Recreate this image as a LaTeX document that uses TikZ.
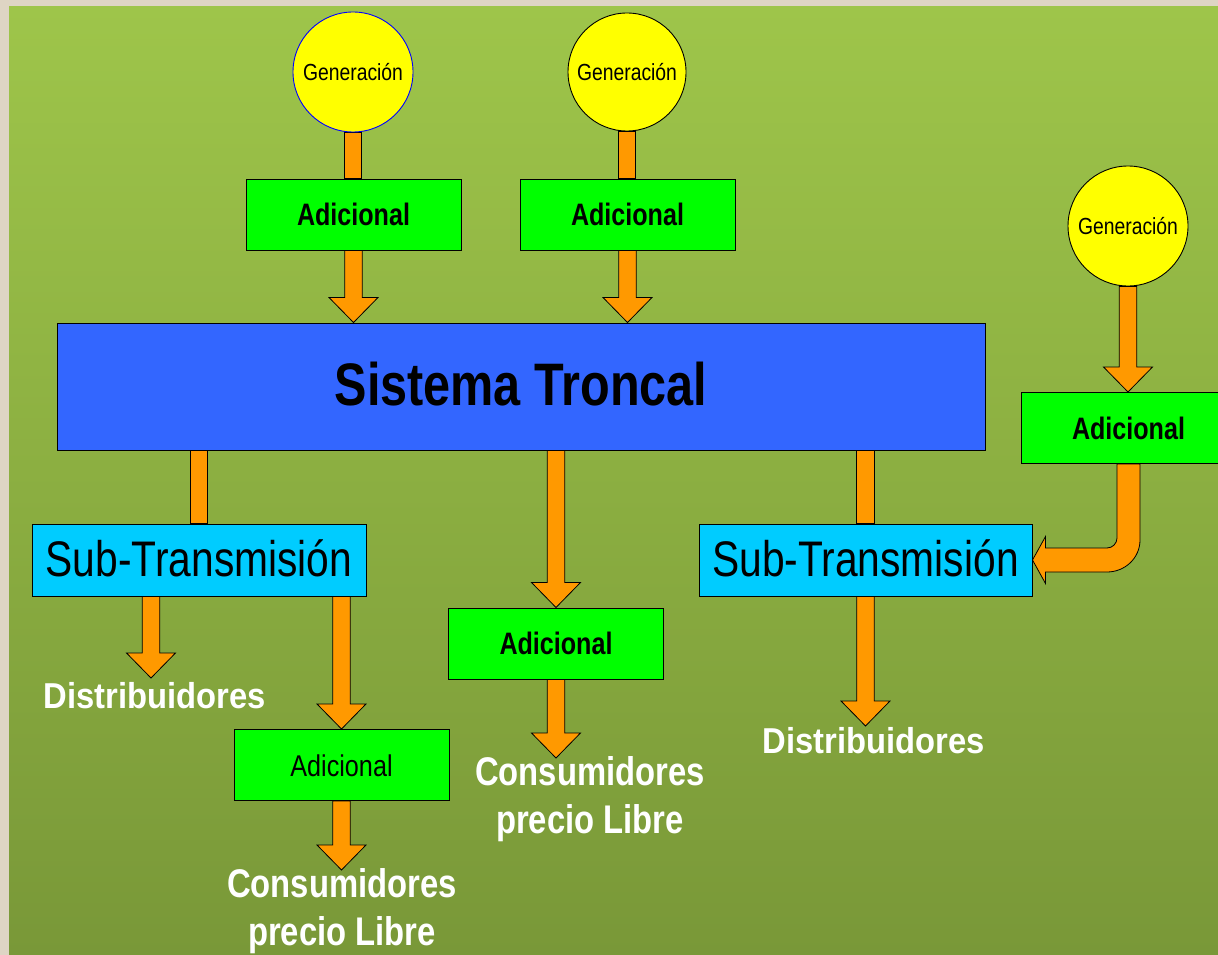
\documentclass[tikz,border=0pt]{standalone}
\usepackage{fontspec}
\setmainfont{Liberation Sans}
\usepackage{graphicx}
\usetikzlibrary{calc}
\pgfdeclarelayer{bg}
\pgfdeclarelayer{arr}
\pgfsetlayers{bg,arr,main}
\definecolor{gtop}{RGB}{158,197,74}
\definecolor{gbot}{RGB}{121,152,56}
\definecolor{beige}{RGB}{222,213,196}
\definecolor{orng}{RGB}{255,153,0}
\definecolor{lime}{RGB}{0,255,0}
\definecolor{troncalblue}{RGB}{51,102,255}
\definecolor{cyanbox}{RGB}{0,204,255}
\definecolor{yel}{RGB}{255,255,0}
\newcommand\sx[2]{\scalebox{#1}[1]{#2}}
\newcommand\fs[1]{\fontsize{#1}{#1}\selectfont}
\newcommand\dnhead[2]{%
  \draw[arrowstyle] let \p1=(#1), \p2=(#2) in
  ({\x1-8.75pt},\y1) -- ({\x1-8.75pt},{\y2+25pt}) -- ({\x1-24.5pt},{\y2+25pt})
  -- (\x1,\y2) -- ({\x1+24.5pt},{\y2+25pt}) -- ({\x1+8.75pt},{\y2+25pt})
  -- ({\x1+8.75pt},\y1) -- cycle;}
\newcommand\dnbar[2]{%
  \draw[arrowstyle] let \p1=(#1), \p2=(#2) in
  ({\x1-8.75pt},\y1) rectangle ({\x1+8.75pt},\y2);}
\tikzset{
  arrowstyle/.style={fill=orng, draw=black, line width=0.8pt, line join=miter},
  genc/.style={circle, draw=black, fill=yel, line width=0.9pt, minimum size=120pt,
    inner sep=0pt, text height=16.7pt, text depth=0pt, font=\fs{23.3}},
  adbox/.style={rectangle, draw=black, fill=lime, line width=1pt, minimum width=215pt,
    minimum height=71pt, inner sep=0pt, text height=22pt, text depth=0pt,
    font=\fs{31}\bfseries},
  subbox/.style={rectangle, draw=black, fill=cyanbox, line width=1pt, minimum width=334pt,
    minimum height=72pt, inner sep=0pt, text height=36pt, text depth=0pt, font=\fs{50}},
  tronbox/.style={rectangle, draw=black, fill=troncalblue, line width=1pt,
    minimum width=928pt, minimum height=127pt, inner sep=0pt, text height=43pt,
    text depth=0pt, font=\fs{60}\bfseries},
  lbl/.style={text=white, inner sep=0pt, anchor=base, font=\fs{40}\bfseries}
}
\begin{document}
\begin{tikzpicture}[x=1pt,y=-1pt]
\useasboundingbox (0,0) rectangle (1218,955);
\begin{pgfonlayer}{bg}
  \fill[beige] (0,0) rectangle (1218,955);
  \shade[top color=gtop, bottom color=gbot] (9,7) rectangle (1218,955);
\end{pgfonlayer}

% generation circles
\node[genc, draw=blue] (C1) at (353,72) {\sx{0.83}{Generación}};
\node[genc, minimum size=118pt] (C2) at (627,72) {\sx{0.83}{Generación}};
\node[genc] (C3) at (1128,226) {\sx{0.83}{Generación}};

% adicional boxes
\node[adbox] (A1) at (353.5,214.5) {\sx{0.81}{Adicional}};
\node[adbox] (A2) at (627.5,214.5) {\sx{0.81}{Adicional}};
\node[adbox] (A3) at (1128.5,428) {\sx{0.81}{Adicional}};
\node[adbox] (A4) at (556,643.5) {\sx{0.81}{Adicional}};
\node[adbox, font=\fs{30}] (A5) at (341.5,765) {\sx{0.84}{Adicional}};

% troncal
\node[tronbox] (T) at (521,386.5) {\raisebox{3pt}{\sx{0.81}{Sistema Troncal}}};

% sub-transmision
\node[subbox] (S1) at (199,560) {\raisebox{2pt}{\sx{0.815}{Sub-Transmisión}}};
\node[subbox, minimum width=333pt] (S2) at (865.5,560) {\raisebox{2pt}{\sx{0.815}{Sub-Transmisión}}};

% labels
\node[lbl, font=\fs{36}\bfseries] (D1) at (155,708) {\sx{0.91}{Distribuidores}};
\node[lbl, font=\fs{36}\bfseries] (D2) at (874,753) {\sx{0.91}{Distribuidores}};
\node[lbl] (K1) at (342,897) {\sx{0.82}{Consumidores}};
\node[lbl] (K1b) at (342,945) {\sx{0.82}{precio Libre}};
\node[lbl] (K2) at (590,785) {\sx{0.82}{Consumidores}};
\node[lbl] (K2b) at (590,833) {\sx{0.82}{precio Libre}};

% arrow tips
\coordinate (d1tip) at (151,678);
\coordinate (d2tip) at (866,726);
\coordinate (k1tip) at (342,870);
\coordinate (k2tip) at (556,758);

\begin{pgfonlayer}{arr}
  \dnbar{C1.south}{A1.north}
  \dnhead{A1.south}{A1.south |- T.north}
  \dnbar{C2.south}{A2.north}
  \dnhead{A2.south}{A2.south |- T.north}
  \dnhead{C3.south}{A3.north}
  \dnbar{S1.north |- T.south}{S1.north}
  \dnhead{A4.north |- T.south}{A4.north}
  \dnbar{S2.north |- T.south}{S2.north}
  \dnhead{d1tip |- S1.south}{d1tip}
  \dnhead{A5.north |- S1.south}{A5.north}
  \dnhead{A5.south}{k1tip}
  \dnhead{A4.south}{k2tip}
  \dnhead{S2.south}{d2tip}
  % bent arrow from A3 to S2
  \draw[arrowstyle] let \p1=(A3.south), \p2=(S2.east) in
    ({\x1-11.5pt},\y1) -- ({\x1-11.5pt},{\y2+22pt})
    .. controls ({\x1-11.5pt},{\y2+16.5pt}) and ({\x1-16pt},{\y2+12pt}) .. ({\x1-21.5pt},{\y2+12pt})
    -- ({\x2+13pt},{\y2+12pt}) -- ({\x2+13pt},{\y2+23.5pt}) -- (\x2,\y2)
    -- ({\x2+13pt},{\y2-23.5pt}) -- ({\x2+13pt},{\y2-12pt}) -- ({\x1-21.5pt},{\y2-12pt})
    .. controls ({\x1-3.5pt},{\y2-12pt}) and ({\x1+11.5pt},{\y2+2pt}) .. ({\x1+11.5pt},{\y2+20pt})
    -- ({\x1+11.5pt},\y1) -- cycle;
\end{pgfonlayer}
\end{tikzpicture}
\end{document}
